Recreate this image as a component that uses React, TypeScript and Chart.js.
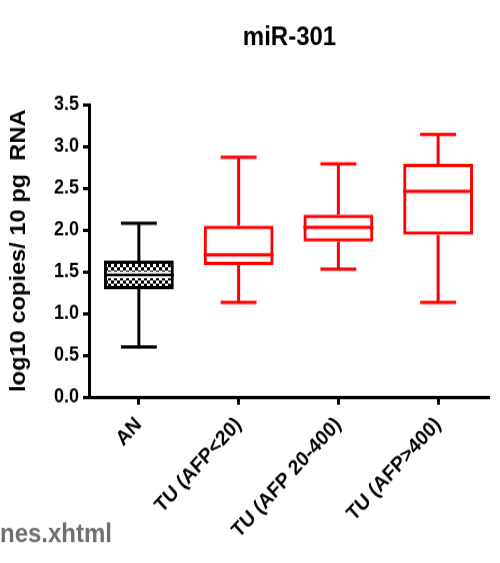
import React, { useEffect, useRef } from 'react';
import { Chart, registerables } from 'chart.js';

Chart.register(...registerables);

// ---- data ----
const categories = ['AN', 'TU (AFP<20)', 'TU (AFP 20-400)', 'TU (AFP>400)'];
const mins = [0.6, 1.13, 1.53, 1.13];
const q1 = [1.29, 1.58, 1.86, 1.94];
const medians = [1.46, 1.7, 2.03, 2.46];
const q3 = [1.63, 2.05, 2.18, 2.79];
const maxs = [2.08, 2.87, 2.79, 3.14];
const yTicks = [0, 0.5, 1, 1.5, 2, 2.5, 3, 3.5];
const titleText = 'miR-301';
const yTitleText = 'log10 copies/ 10 pg  RNA';
const watermarkText = 'nes.xhtml';

const RED = '#ff0000';
const lineColors = ['#000000', RED, RED, RED];
const patterned = [true, false, false, false];

const FONT = "'Liberation Sans', Arial, Helvetica, sans-serif";
const W = 500;
const H = 512;
const DISPLAY_H = 563;

export default function App() {
  const ref = useRef<HTMLCanvasElement>(null);

  useEffect(() => {
    document.body.style.margin = '0';
    const canvas = ref.current;
    if (!canvas) return;

    const pc = document.createElement('canvas');
    pc.width = 6;
    pc.height = 6;
    const pctx = pc.getContext('2d')!;
    pctx.fillStyle = '#ffffff';
    pctx.fillRect(0, 0, 6, 6);
    pctx.fillStyle = '#000000';
    pctx.fillRect(0, 0, 3, 3);
    pctx.fillRect(3, 3, 3, 3);
    const pattern = canvas.getContext('2d')!.createPattern(pc, 'repeat');

    const boxPlugin = {
      id: 'boxWhiskers',
      afterDatasetsDraw(chart: any) {
        const { ctx, scales } = chart;
        const x = scales.x;
        const y = scales.y;
        const meta = chart.getDatasetMeta(0);
        const step = x.getPixelForValue(1) - x.getPixelForValue(0);
        const capHalf = step * 0.18;
        ctx.save();
        ctx.lineCap = 'butt';
        categories.forEach((_, i) => {
          const cx = x.getPixelForValue(i);
          const bar = meta.data[i];
          const half = bar.width / 2;
          const yMax = y.getPixelForValue(maxs[i]);
          const yMin = y.getPixelForValue(mins[i]);
          const yQ1 = y.getPixelForValue(q1[i]);
          const yQ3 = y.getPixelForValue(q3[i]);
          const yMed = y.getPixelForValue(medians[i]);
          ctx.strokeStyle = lineColors[i];
          ctx.lineWidth = 3;
          ctx.beginPath();
          ctx.moveTo(cx, yQ3);
          ctx.lineTo(cx, yMax);
          ctx.moveTo(cx, yQ1);
          ctx.lineTo(cx, yMin);
          ctx.moveTo(cx - capHalf, yMax);
          ctx.lineTo(cx + capHalf, yMax);
          ctx.moveTo(cx - capHalf, yMin);
          ctx.lineTo(cx + capHalf, yMin);
          ctx.stroke();
          if (patterned[i]) {
            ctx.strokeStyle = '#ffffff';
            ctx.lineWidth = 6;
            ctx.beginPath();
            ctx.moveTo(cx - half + 3, yMed);
            ctx.lineTo(cx + half - 3, yMed);
            ctx.stroke();
          }
          ctx.strokeStyle = lineColors[i];
          ctx.lineWidth = patterned[i] ? 2.5 : 3;
          ctx.beginPath();
          ctx.moveTo(cx - half, yMed);
          ctx.lineTo(cx + half, yMed);
          ctx.stroke();
        });
        ctx.restore();
      },
    };

    const textPlugin = {
      id: 'extraText',
      afterDraw(chart: any) {
        const { ctx, chartArea } = chart;
        ctx.save();
        ctx.fillStyle = '#000000';
        ctx.textAlign = 'center';
        ctx.textBaseline = 'middle';
        ctx.font = `bold 24px ${FONT}`;
        ctx.fillText(titleText, (chartArea.left + chartArea.right) / 2 + 1, 34);

        ctx.save();
        ctx.translate(19, (chartArea.top + chartArea.bottom) / 2);
        ctx.rotate(-Math.PI / 2);
        ctx.font = `bold 21.5px ${FONT}`;
        ctx.fillText(yTitleText, 0, 0);
        ctx.restore();

        ctx.textAlign = 'left';
        ctx.textBaseline = 'middle';
        ctx.font = `bold 24px ${FONT}`;
        ctx.fillStyle = '#707070';
        ctx.fillText(watermarkText, 0, 486);
        ctx.restore();
      },
    };

    const chart = new Chart(canvas, {
      type: 'bar',
      data: {
        labels: categories,
        datasets: [
          {
            data: categories.map((_, i) => [q1[i], q3[i]]) as any,
            backgroundColor: patterned.map((p) => (p ? pattern : 'rgba(0,0,0,0)')) as any,
            borderColor: lineColors,
            borderWidth: 3,
            borderSkipped: false,
            barPercentage: 0.7,
            categoryPercentage: 1,
          },
        ],
      },
      options: {
        responsive: false,
        animation: false,
        devicePixelRatio: 1,
        layout: { padding: { top: 95, right: 12, left: 0, bottom: 0 } },
        plugins: {
          legend: { display: false },
          tooltip: { enabled: false },
          title: { display: false },
        },
        scales: {
          x: {
            type: 'category',
            offset: true,
            grid: {
              display: true,
              drawOnChartArea: false,
              offset: false,
              tickLength: 7,
              lineWidth: 3,
              color: '#000000',
            },
            border: { display: true, width: 3, color: '#000000' },
            ticks: {
              color: '#000000',
              font: { family: FONT, size: 19, weight: 'bold' },
              minRotation: 45,
              maxRotation: 45,
              autoSkip: false,
              padding: 7,
            },
            afterFit: (s: any) => {
              s.height = 151;
            },
          },
          y: {
            type: 'linear',
            min: 0,
            max: 3.5,
            afterBuildTicks: (s: any) => {
              s.ticks = yTicks.map((v) => ({ value: v }));
            },
            grid: {
              drawOnChartArea: false,
              tickLength: 6,
              lineWidth: 3,
              color: '#000000',
            },
            border: { display: true, width: 3, color: '#000000' },
            ticks: {
              color: '#000000',
              font: { family: FONT, size: 18, weight: 'bold' },
              padding: 4,
              callback: (v: any) => Number(v).toFixed(1),
            },
            afterFit: (s: any) => {
              s.width = 89;
            },
          },
        },
      },
      plugins: [boxPlugin, textPlugin],
    } as any);

    return () => chart.destroy();
  }, []);

  return (
    <div style={{ width: W, height: DISPLAY_H, background: '#ffffff', overflow: 'hidden' }}>
      <canvas
        ref={ref}
        width={W}
        height={H}
        style={{ display: 'block', width: `${W}px`, height: `${DISPLAY_H}px` }}
      />
    </div>
  );
}
